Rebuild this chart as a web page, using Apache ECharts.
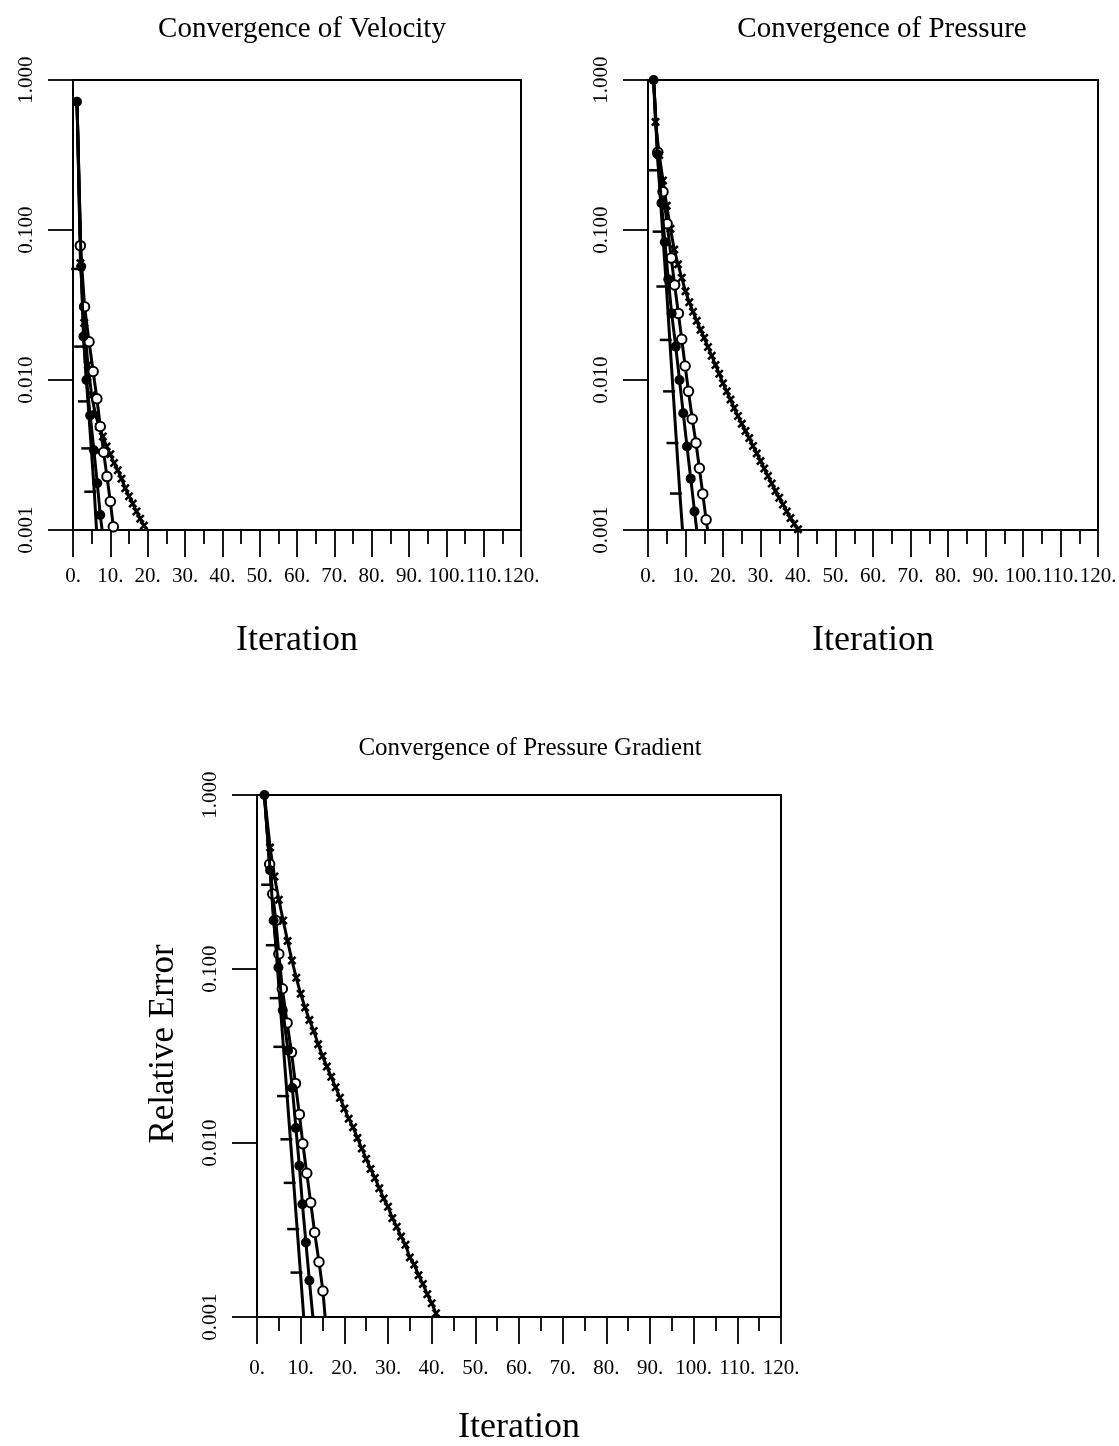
<!DOCTYPE html>
<html>
<head>
<meta charset="utf-8">
<script src="https://cdn.jsdelivr.net/npm/echarts@6/dist/echarts.min.js"></script>
<style>html,body{margin:0;padding:0;background:#fff}#c{width:1119px;height:1446px}</style>
</head>
<body>
<div id="c"></div>
<script>
const FONT = 'Liberation Serif';
const chartTitles = ['Convergence of Velocity', 'Convergence of Pressure', 'Convergence of Pressure Gradient'];
const xAxisName = 'Iteration';
const yAxisName = 'Relative Error';

// ---- Convergence of Velocity ----
const velFilledIter = [1.07, 2.2, 2.8, 3.6, 4.6, 5.6, 6.5, 7.3, 7.8];
const velFilledErr  = [0.717, 0.057, 0.0195, 0.0100, 0.0058, 0.0034, 0.00205, 0.00126, 0.001];
const velOpenIter   = [1.07, 1.97, 3.1, 4.3, 5.4, 6.4, 7.3, 8.2, 9.1, 10.0, 10.8, 11.0];
const velOpenErr    = [0.717, 0.0786, 0.0308, 0.018, 0.0114, 0.0075, 0.0049, 0.0033, 0.00227, 0.00155, 0.00105, 0.001];
const velDashIter   = [1.07, 2.2, 3.0, 4.0, 4.9, 5.7, 6.3];
const velDashErr    = [0.717, 0.055, 0.0167, 0.0072, 0.0035, 0.0018, 0.001];
const velCrossIter  = [1.07, 2, 3, 4, 5, 6, 7, 8, 9, 10, 11, 12, 13, 14, 15, 16, 17, 18, 19, 20, 20.3];
const velCrossErr   = [0.717, 0.060, 0.024, 0.0126, 0.0079, 0.0059, 0.0049, 0.0042, 0.0036, 0.0032, 0.0028, 0.0025, 0.0022, 0.0019, 0.00168, 0.0015, 0.00133, 0.00119, 0.00107, 0.00099, 0.001];

// ---- Convergence of Pressure ----
const preFilledIter = [1.5, 2.5, 3.6, 4.5, 5.4, 6.3, 7.4, 8.4, 9.4, 10.4, 11.4, 12.4, 13.0];
const preFilledErr  = [1.0, 0.32, 0.151, 0.083, 0.047, 0.0278, 0.0167, 0.0100, 0.0060, 0.0036, 0.0022, 0.00133, 0.001];
const preOpenIter   = [1.5, 2.6, 4.0, 5.1, 6.2, 7.1, 8.1, 9.0, 9.9, 10.8, 11.8, 12.8, 13.7, 14.6, 15.5, 15.9];
const preOpenErr    = [1.0, 0.33, 0.18, 0.11, 0.065, 0.043, 0.0278, 0.0187, 0.0124, 0.0084, 0.0055, 0.0038, 0.00258, 0.00174, 0.00117, 0.001];
const preDashIter   = [1.5, 2.8, 3.9, 4.9, 5.8, 6.7, 7.6, 8.5, 9.2];
const preDashErr    = [1.0, 0.25, 0.0975, 0.042, 0.0185, 0.0084, 0.0038, 0.00175, 0.001];
const preCrossIter  = [1.5, 2, 3, 4, 5, 6, 7, 8, 9, 10, 11, 12, 13, 14, 15, 16, 17, 18, 19, 20, 21, 22, 23, 24, 25, 26, 27, 28, 29, 30, 31, 32, 33, 34, 35, 36, 37, 38, 39, 40];
const preCrossErr   = [1.0, 0.525, 0.316, 0.214, 0.145, 0.102, 0.074, 0.059, 0.048, 0.039, 0.033, 0.0285, 0.0248, 0.0216, 0.0191, 0.0166, 0.0145, 0.0126, 0.011, 0.0095, 0.0084, 0.0074, 0.0065, 0.00575, 0.0051, 0.00457, 0.0041, 0.00363, 0.00324, 0.00288, 0.00257, 0.00229, 0.00204, 0.00182, 0.00164, 0.00148, 0.00133, 0.0012, 0.0011, 0.00101];

// ---- Convergence of Pressure Gradient ----
const grdFilledIter = [1.7, 3.0, 3.8, 4.9, 5.9, 7.1, 8.1, 8.9, 9.7, 10.4, 11.2, 12.0, 12.8];
const grdFilledErr  = [1.0, 0.37, 0.19, 0.102, 0.058, 0.034, 0.0207, 0.0122, 0.0074, 0.00445, 0.00268, 0.00162, 0.001];
const grdOpenIter   = [1.7, 2.9, 3.6, 4.3, 5.0, 5.8, 6.9, 7.9, 8.8, 9.7, 10.5, 11.4, 12.3, 13.2, 14.2, 15.1, 15.6];
const grdOpenErr    = [1.0, 0.40, 0.27, 0.19, 0.122, 0.077, 0.049, 0.0332, 0.022, 0.0146, 0.0099, 0.0067, 0.00454, 0.00306, 0.00207, 0.00141, 0.001];
const grdDashIter   = [1.7, 3.25, 4.3, 5.2, 6.05, 6.9, 7.65, 8.4, 9.2, 9.95, 10.7];
const grdDashErr    = [1.0, 0.305, 0.137, 0.068, 0.0357, 0.0186, 0.0105, 0.0059, 0.0032, 0.0018, 0.001];
const grdCrossIter  = [1.7, 3, 4, 5, 6, 7, 8, 9, 10, 11, 12, 13, 14, 15, 16, 17, 18, 19, 20, 21, 22, 23, 24, 25, 26, 27, 28, 29, 30, 31, 32, 33, 34, 35, 36, 37, 38, 39, 40, 41, 41.3];
const grdCrossErr   = [1.0, 0.50, 0.34, 0.25, 0.19, 0.145, 0.112, 0.089, 0.072, 0.060, 0.051, 0.044, 0.037, 0.0316, 0.0275, 0.024, 0.0209, 0.0182, 0.0158, 0.0138, 0.0123, 0.0107, 0.0093, 0.0081, 0.0071, 0.0063, 0.0055, 0.0048, 0.0043, 0.0037, 0.0033, 0.0029, 0.0026, 0.0022, 0.0020, 0.00174, 0.00155, 0.00135, 0.0012, 0.00105, 0.001];

const SYM = {
  filled: {symbol: 'circle', size: 10},
  open:   {symbol: 'emptyCircle', size: 9.5},
  dash:   {symbol: 'path://M0,0 L10,0 L10,2 L0,2 Z', size: [12, 2.5], offset: [-4, 0]},
  cross:  {symbol: 'path://M0,2 L2,0 L5,3 L8,0 L10,2 L7,5 L10,8 L8,10 L5,7 L2,10 L0,8 L3,5 Z', size: 9}
};

function series(iter, err, kind, gi, showFirst, showLast) {
  const s = SYM[kind];
  const data = iter.map((x, i) => {
    const d = {value: [x, err[i]]};
    if ((i === 0 && !showFirst) || (i === iter.length - 1 && !showLast)) d.symbol = 'none';
    return d;
  });
  return {
    type: 'line', xAxisIndex: gi, yAxisIndex: gi, data: data,
    symbol: s.symbol, symbolSize: s.size, symbolOffset: s.offset || [0, 0],
    showAllSymbol: true, clip: true, silent: true,
    lineStyle: {color: '#000', width: 3},
    itemStyle: {color: '#000', borderColor: '#000', borderWidth: kind === 'open' ? 1.4 : 0},
    z: kind === 'filled' ? 5 : 3
  };
}

const grids = [
  {left: 73, top: 80, width: 448, height: 450},
  {left: 648, top: 80, width: 450, height: 450},
  {left: 257, top: 795, width: 524, height: 522}
];

function xAxis(gi, gap, labelMargin) {
  return {
    type: 'value', gridIndex: gi, min: 0, max: 120, interval: 10,
    name: xAxisName, nameLocation: 'middle', nameGap: gap,
    nameTextStyle: {fontFamily: FONT, fontSize: 36, color: '#000'},
    axisLine: {lineStyle: {color: '#000', width: 2}},
    axisTick: {show: true, length: 27, lineStyle: {color: '#000', width: 1.8}},
    minorTick: {show: true, splitNumber: 2, length: 14, lineStyle: {color: '#000', width: 1.8}},
    splitLine: {show: false}, minorSplitLine: {show: false},
    axisLabel: {interval: 0, margin: labelMargin, fontFamily: FONT, fontSize: 21, color: '#000', formatter: v => v + '.'}
  };
}
function yAxis(gi, withName) {
  const a = {
    type: 'log', logBase: 10, gridIndex: gi, min: 0.001, max: 1,
    axisLine: {lineStyle: {color: '#000', width: 2}},
    axisTick: {show: true, length: 25, lineStyle: {color: '#000', width: 1.8}},
    minorTick: {show: false}, splitLine: {show: false},
    axisLabel: {interval: 0, rotate: 90, margin: 36, fontFamily: FONT, fontSize: 21, color: '#000',
      formatter: v => Number(v).toFixed(3)}
  };
  if (withName) {
    a.name = yAxisName; a.nameLocation = 'middle'; a.nameGap = 76; a.nameRotate = 90;
    a.nameTextStyle = {fontFamily: FONT, fontSize: 35, color: '#000', padding: [0, 0, 0, 24]};
  }
  return a;
}

const option = {
  animation: false,
  backgroundColor: '#fff',
  title: [
    {text: chartTitles[0], left: 297, top: 10, textAlign: 'center', textStyle: {fontFamily: FONT, fontSize: 29, fontWeight: 'normal', color: '#000'}},
    {text: chartTitles[1], left: 877, top: 10, textAlign: 'center', textStyle: {fontFamily: FONT, fontSize: 29, fontWeight: 'normal', color: '#000'}},
    {text: chartTitles[2], left: 525, top: 731, textAlign: 'center', textStyle: {fontFamily: FONT, fontSize: 25, fontWeight: 'normal', color: '#000'}}
  ],
  grid: grids.map(g => Object.assign({show: true, borderColor: '#000', borderWidth: 2, backgroundColor: 'transparent', containLabel: false, outerBoundsMode: 'none'}, g)),
  xAxis: [xAxis(0, 93, 36), xAxis(1, 93, 36), xAxis(2, 93, 41)],
  yAxis: [yAxis(0, false), yAxis(1, false), yAxis(2, true)],
  series: [
    series(velCrossIter, velCrossErr, 'cross', 0, false, false),
    series(velDashIter, velDashErr, 'dash', 0, false, false),
    series(velOpenIter, velOpenErr, 'open', 0, false, false),
    series(velFilledIter, velFilledErr, 'filled', 0, true, false),

    series(preCrossIter, preCrossErr, 'cross', 1, false, true),
    series(preDashIter, preDashErr, 'dash', 1, false, false),
    series(preOpenIter, preOpenErr, 'open', 1, false, false),
    series(preFilledIter, preFilledErr, 'filled', 1, true, false),

    series(grdCrossIter, grdCrossErr, 'cross', 2, false, false),
    series(grdDashIter, grdDashErr, 'dash', 2, false, false),
    series(grdOpenIter, grdOpenErr, 'open', 2, false, false),
    series(grdFilledIter, grdFilledErr, 'filled', 2, true, false)
  ]
};

const chart = echarts.init(document.getElementById('c'), null, {renderer: 'canvas'});
chart.setOption(option);
</script>
</body>
</html>
